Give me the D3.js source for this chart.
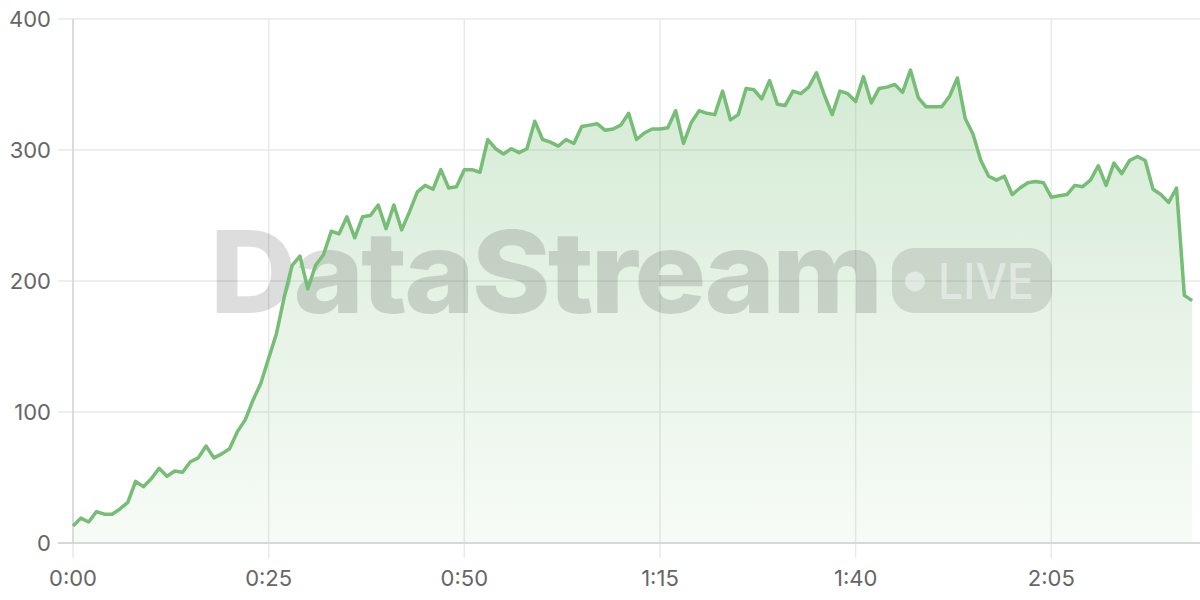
<!DOCTYPE html>
<html><head><meta charset="utf-8">
<script src="https://cdn.jsdelivr.net/npm/d3@7"></script>
<style>html,body{margin:0;padding:0;background:#fff;}svg{display:block;font-family:Inter,"Noto Sans",sans-serif;}</style>
</head><body>
<svg id="chart" width="1200" height="600"></svg>
<script>
// seconds since start
const values = [13,19,16,24,22,22,26,31,47,43,49,57,51,55,54,62,65,74,65,68,
72,85,94,109,122,141,160,188,212,219,194,212,220,238,236,249,233,249,250,258,
240,258,239,253,268,273,270,285,271,272,285,285,283,308,301,297,301,298,301,322,
308,306,303,308,305,318,319,320,315,316,319,328,308,313,316,316,317,330,305,321,
330,328,327,345,323,327,347,346,339,353,335,334,345,343,348,359,342,327,345,343,
337,356,336,347,348,350,344,361,340,333,333,333,341,355,324,312,292,280,277,280,
266,271,275,276,275,264,265,266,273,272,277,288,273,290,282,292,295,292,270,266,
260,271,189,185];
const seconds = values.map((v,i)=>i);
const xTicks = [0,25,50,75,100,125];
const yTicks = [0,100,200,300,400];
const watermark = "DataStream";
const badge = "LIVE";

const svg = d3.select("#chart");
const x = d3.scaleLinear().domain([0,144]).range([73,1200]);
const y = d3.scaleLinear().domain([0,400]).range([543,19]);
const fmt = s => Math.floor(s/60)+":"+String(s%60).padStart(2,"0");

const defs = svg.append("defs");
const g = defs.append("linearGradient").attr("id","fill").attr("gradientUnits","userSpaceOnUse")
  .attr("x1",0).attr("x2",0).attr("y1",y(400)).attr("y2",y(0));
g.append("stop").attr("offset","0%").attr("stop-color","#76bd76").attr("stop-opacity",0.34);
g.append("stop").attr("offset","100%").attr("stop-color","#76bd76").attr("stop-opacity",0.06);

// grid
svg.append("g").selectAll("line").data(yTicks).join("line")
  .attr("x1",58).attr("x2",1200).attr("y1",d=>y(d)).attr("y2",d=>y(d))
  .attr("stroke","#e9e9e9").attr("stroke-width",1.5);
svg.append("g").selectAll("line").data(xTicks).join("line")
  .attr("x1",d=>x(d)).attr("x2",d=>x(d)).attr("y1",y(400)).attr("y2",558)
  .attr("stroke","#e9e9e9").attr("stroke-width",1.5);

// area
const area = d3.area().x((d,i)=>x(seconds[i])).y0(y(0)).y1(d=>y(d));
svg.append("path").datum(values).attr("d",area).attr("fill","url(#fill)");

// axis lines
svg.append("line").attr("x1",x(0)).attr("x2",x(0)).attr("y1",y(400)).attr("y2",y(0))
  .attr("stroke","#d6d6d6").attr("stroke-width",1.5);
svg.append("line").attr("x1",58).attr("x2",1200).attr("y1",y(0)).attr("y2",y(0))
  .attr("stroke","#d0d0d0").attr("stroke-width",1.5);

// watermark
const wm = svg.append("g");
wm.append("text").attr("x",210).attr("y",313).text(watermark)
  .attr("font-size",114).attr("font-weight",800).attr("textLength",670).attr("lengthAdjust","spacingAndGlyphs")
  .attr("fill","rgba(0,0,0,0.135)").style("letter-spacing","-3px");
wm.append("rect").attr("x",892).attr("y",248).attr("width",160).attr("height",65).attr("rx",22)
  .attr("fill","rgba(0,0,0,0.11)");
wm.append("circle").attr("cx",915).attr("cy",281.5).attr("r",10).attr("fill","rgba(255,255,255,0.45)");
wm.append("text").attr("x",938).attr("y",299).text(badge)
  .attr("font-size",50).attr("font-weight",500).attr("textLength",96).attr("lengthAdjust","spacingAndGlyphs")
  .attr("fill","rgba(255,255,255,0.45)");

// line
const line = d3.line().x((d,i)=>x(seconds[i])).y(d=>y(d));
svg.append("path").datum(values).attr("d",line).attr("fill","none")
  .attr("stroke","#76bd76").attr("stroke-width",3.5).attr("stroke-linejoin","round");

// labels
svg.append("g").selectAll("text").data(yTicks).join("text")
  .attr("x",51).attr("y",d=>y(d)).attr("dy","0.36em").attr("text-anchor","end")
  .attr("font-size",22).attr("fill","#666").text(d=>d);
svg.append("g").selectAll("text").data(xTicks).join("text")
  .attr("x",d=>x(d)).attr("y",578).attr("dy","0.36em").attr("text-anchor","middle")
  .attr("font-size",22).attr("fill","#666").text(d=>fmt(d));
</script>
</body></html>
